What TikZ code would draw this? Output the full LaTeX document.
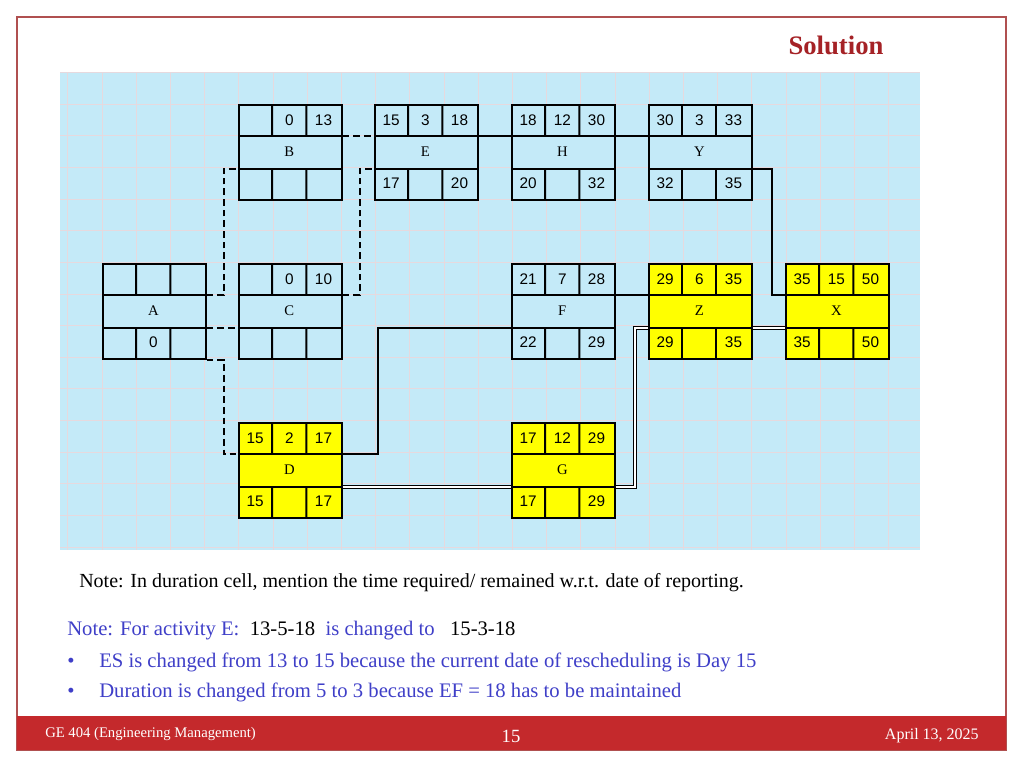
\documentclass[tikz,border=0pt]{standalone}
\usepackage{fontspec}
\setmainfont{Liberation Serif}
\newfontfamily\numf{Liberation Sans}
\usetikzlibrary{calc}
\definecolor{bgblue}{HTML}{C4EAF8}
\definecolor{gridc}{HTML}{E6D9DE}
\definecolor{yel}{HTML}{FFFF00}
\definecolor{darkred}{HTML}{A52226}
\definecolor{barred}{HTML}{C4292C}
\definecolor{framec}{HTML}{B05050}
\definecolor{noteblue}{HTML}{3F3FC8}
\tikzset{
  boxline/.style={line width=1.5pt},
  dep/.style={line width=1.5pt, dash pattern=on 5pt off 3pt},
  crit/.style={double, line width=0.7pt, double distance=1.6pt},
  sol/.style={line width=1.5pt},
  num/.style={font=\numf\fontsize{11.5}{12}\selectfont, inner sep=0pt},
  let/.style={font=\fontsize{11}{12}\selectfont, inner sep=0pt},
}
% \abox{name}{x}{y}{fill}{a}{b}{c}{Letter}{d e f via second macro}
\newcommand\abox[8]{%
  \node[draw, boxline, fill=#4, minimum width=102.6*0.75pt, minimum height=94.95*0.75pt, anchor=north west, inner sep=0pt] (#1) at (#2,#3) {};
  \coordinate (#1l1) at ($(#1.north west)!1/3!(#1.south west)$);
  \coordinate (#1l2) at ($(#1.north west)!2/3!(#1.south west)$);
  \coordinate (#1r1) at ($(#1.north east)!1/3!(#1.south east)$);
  \coordinate (#1r2) at ($(#1.north east)!2/3!(#1.south east)$);
  \draw[boxline] (#1l1) -- (#1r1) (#1l2) -- (#1r2);
  \draw[boxline] ($(#1.north west)+(34.2,0)$) -- ($(#1l1)+(34.2,0)$)
                 ($(#1.north west)+(68.4,0)$) -- ($(#1l1)+(68.4,0)$)
                 ($(#1l2)+(34.2,0)$) -- ($(#1.south west)+(34.2,0)$)
                 ($(#1l2)+(68.4,0)$) -- ($(#1.south west)+(68.4,0)$);
  \node[num] at ($(#1.north west)+(17.1,15.8)$) {#5};
  \node[num] at ($(#1.north west)+(51.3,15.8)$) {#6};
  \node[num] at ($(#1.north west)+(85.5,15.8)$) {#7};
  \node[let] at ($(#1.north west)+(51.3,47.5)$) {#8};
}
\newcommand\bvals[4]{%
  \node[num] at ($(#1.north west)+(17.1,79.1)$) {#2};
  \node[num] at ($(#1.north west)+(51.3,79.1)$) {#3};
  \node[num] at ($(#1.north west)+(85.5,79.1)$) {#4};
}
\begin{document}
\begin{tikzpicture}[x=0.75pt,y=-0.75pt]
\useasboundingbox (0,0) rectangle (1024,768);
\fill[white] (0,0) rectangle (1024,768);
\draw[framec, line width=0.8pt] (17,17) rectangle (1006,750);
\fill[barred] (17,716) rectangle (1006,750);
\node[font=\bfseries\fontsize{20}{24}\selectfont, text=darkred] (title) at (836,45) {Solution};
% diagram background
\fill[bgblue] (60,72) rectangle (920,550);
\begin{scope}
\clip (60,72) rectangle (920,550);
\foreach \i in {-1,...,24} \draw[gridc, line width=0.6pt] (102+34.2*\i,72) -- (102+34.2*\i,550);
\foreach \j in {0,...,15} \draw[gridc, line width=0.6pt] (60,72.35+31.65*\j) -- (920,72.35+31.65*\j);
\end{scope}
% boxes
\abox{A}{102}{263}{bgblue}{}{}{}{A}\bvals{A}{}{0}{}
\abox{B}{238}{104}{bgblue}{}{0}{13}{B}\bvals{B}{}{}{}
\abox{C}{238}{263}{bgblue}{}{0}{10}{C}\bvals{C}{}{}{}
\abox{D}{238}{422}{yel}{15}{2}{17}{D}\bvals{D}{15}{}{17}
\abox{E}{374}{104}{bgblue}{15}{3}{18}{E}\bvals{E}{17}{}{20}
\abox{H}{511}{104}{bgblue}{18}{12}{30}{H}\bvals{H}{20}{}{32}
\abox{F}{511}{263}{bgblue}{21}{7}{28}{F}\bvals{F}{22}{}{29}
\abox{G}{511}{422}{yel}{17}{12}{29}{G}\bvals{G}{17}{}{29}
\abox{Y}{648}{104}{bgblue}{30}{3}{33}{Y}\bvals{Y}{32}{}{35}
\abox{Z}{648}{263}{yel}{29}{6}{35}{Z}\bvals{Z}{29}{}{35}
\abox{X}{785}{263}{yel}{35}{15}{50}{X}\bvals{X}{35}{}{50}
% connectors
\draw[dep] (Ar1) -- ++(17,0) |- (Bl2);
\draw[dep] (Ar2) -- (Cl2);
\draw[dep] (A.south east) -- ++(17,0) |- (Dl1);
\draw[dep] (Br1) -- (El1);
\draw[dep] (Cr1) -- ++(17,0) |- (El2);
\draw[sol] (Er1) -- (Hl1);
\draw[sol] (Hr1) -- (Yl1);
\draw[sol] (Yr2) -- ++(19,0) |- (Xl1);
\draw[sol] (Dr1) -- ++(35,0) |- (Fl2);
\draw[sol] (Fr1) -- (Zl1);
\draw[crit] (Dr2) -- (Gl2);
\draw[crit] (Gr2) -- ++(19,0) |- (Zl2);
\draw[crit] (Zr2) -- (Xl2);
% notes
\node[anchor=west, inner sep=0pt, font=\fontsize{15}{18}\selectfont] (n1) at (79,583) {Note: In duration cell, mention the time required/ remained w.r.t. date of reporting.};
\node[anchor=west, inner sep=0pt, font=\fontsize{15.5}{18}\selectfont, text=noteblue] (n2) at (67,631) {Note: For activity E:\ \ \textcolor{black}{13-5-18}\ \ is changed to\ \ \ \textcolor{black}{15-3-18}};
\node[anchor=west, inner sep=0pt, font=\fontsize{15.5}{18}\selectfont, text=noteblue] (b1) at (67,662) {\makebox[24pt][l]{•}ES is changed from 13 to 15 because the current date of rescheduling is Day 15};
\node[anchor=west, inner sep=0pt, font=\fontsize{15.5}{18}\selectfont, text=noteblue] (b2) at (67,692) {\makebox[24pt][l]{•}Duration is changed from 5 to 3 because EF = 18 has to be maintained};
% footer
\node[anchor=west, inner sep=0pt, text=white, font=\fontsize{11}{13}\selectfont] (f1) at (45,734) {GE 404 (Engineering Management)};
\node[inner sep=0pt, text=white, font=\fontsize{14}{16}\selectfont] (f2) at (511,736) {15};
\node[anchor=east, inner sep=0pt, text=white, font=\fontsize{12}{14}\selectfont] (f3) at (979,736) {April 13, 2025};
\end{tikzpicture}
\end{document}
